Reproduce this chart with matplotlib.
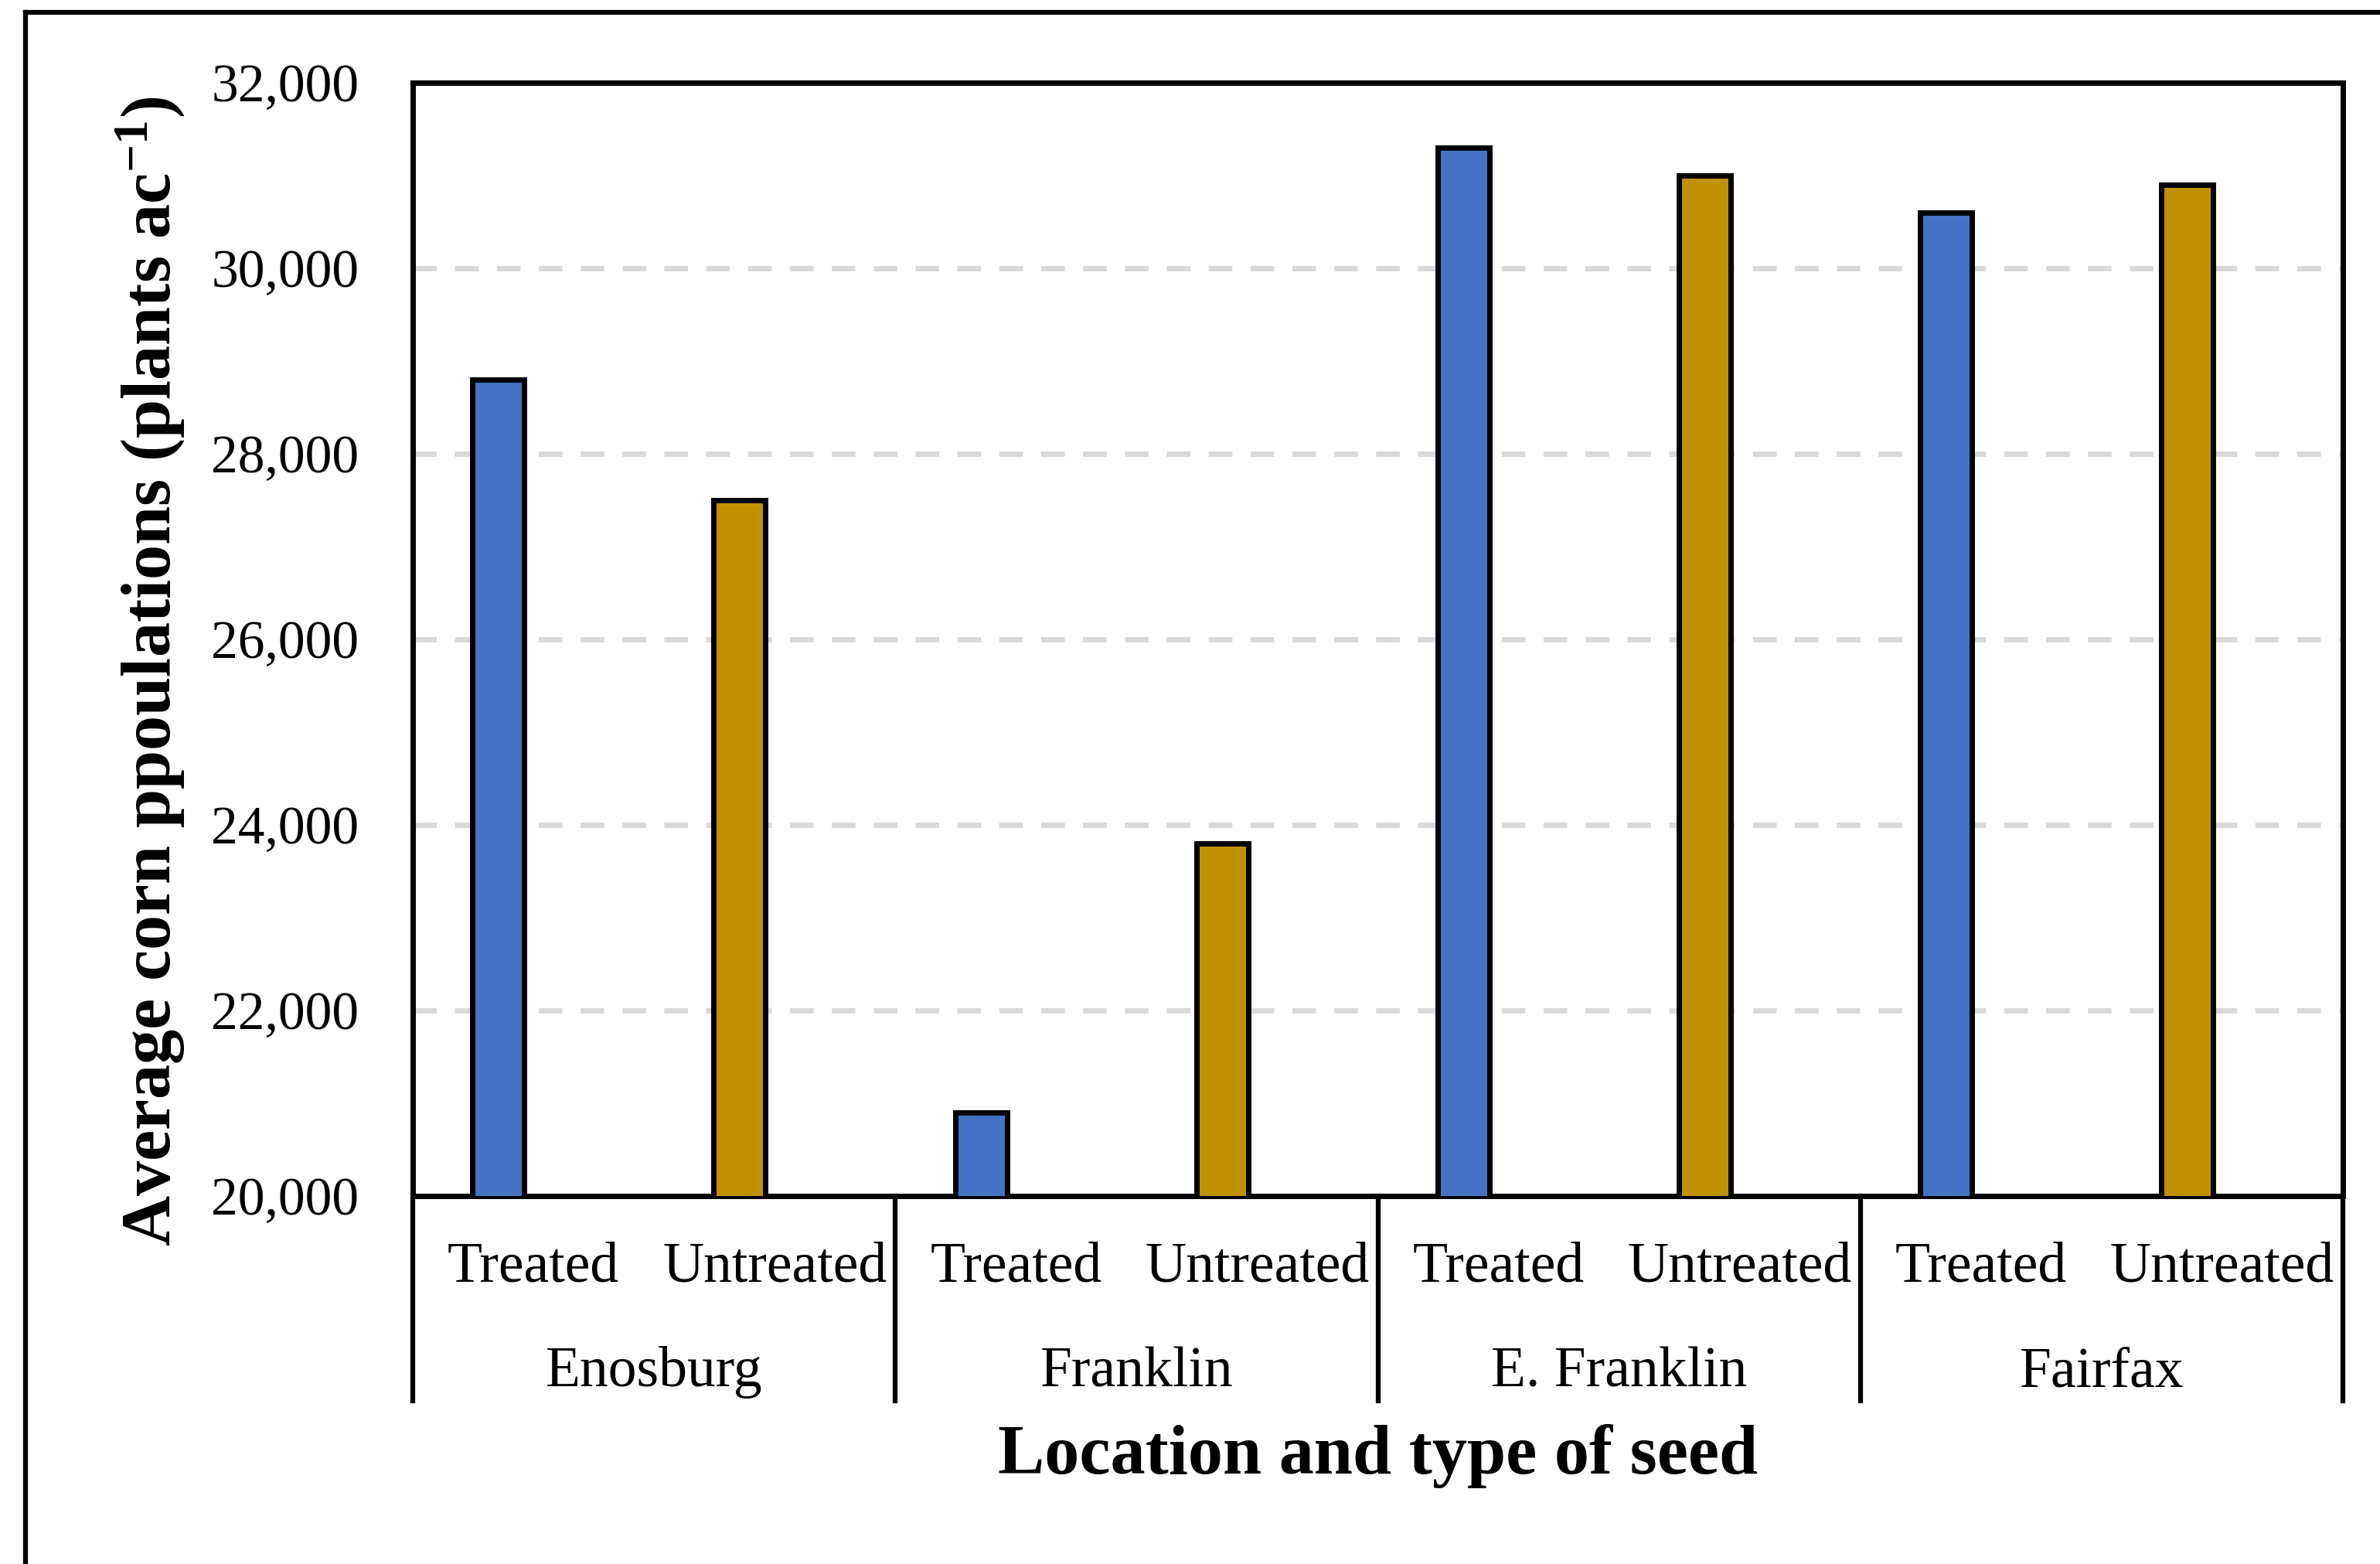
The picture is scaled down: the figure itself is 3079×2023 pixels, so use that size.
import matplotlib
matplotlib.use("Agg")
import matplotlib.pyplot as plt
from matplotlib.lines import Line2D
from matplotlib.ticker import FuncFormatter
import matplotlib.transforms as mtransforms

# data
locations = ["Enosburg", "Franklin", "E. Franklin", "Fairfax"]
seed_types = ["Treated", "Untreated"]
treated = [28800, 20900, 31300, 30600]
untreated = [27500, 23800, 31000, 30900]
y_ticks = [20000, 22000, 24000, 26000, 28000, 30000, 32000]

plt.rcParams['font.family'] = ['Liberation Serif', 'DejaVu Serif']
plt.rcParams['mathtext.fontset'] = 'custom'
plt.rcParams['mathtext.rm'] = 'Liberation Serif'
plt.rcParams['mathtext.bf'] = 'Liberation Serif:bold'
plt.rcParams['mathtext.default'] = 'bf'

W, H = 3079, 2023
fig = plt.figure(figsize=(W / 100, H / 100), dpi=100)

# axes box in pixels: left 534, right 3031, top 107, bottom 1547
ax_l, ax_r, ax_t, ax_b = 534, 3031, 107, 1547
ax = fig.add_axes([ax_l / W, 1 - ax_b / H, (ax_r - ax_l) / W, (ax_b - ax_t) / H])

blue = "#4472C4"
gold = "#BF9000"
bar_w = 0.215
offset = 0.355

# one slot per (location, seed type); Treated first then Untreated
for i, loc in enumerate(locations):
    ax.bar(2 * i + offset, treated[i], width=bar_w, color=blue,
           edgecolor="black", linewidth=5, zorder=3)
    ax.bar(2 * i + 1 + offset, untreated[i], width=bar_w, color=gold,
           edgecolor="black", linewidth=5, zorder=3)

ax.set_xlim(0, 2 * len(locations))
ax.set_ylim(y_ticks[0], y_ticks[-1])
ax.set_yticks(y_ticks)
ax.yaxis.set_major_formatter(FuncFormatter(lambda v, p: f"{int(v):,}"))
ax.tick_params(axis="y", length=0, pad=50, labelsize=50)
ax.set_xticks([])

ax.yaxis.grid(True, color="#D9D9D9", linewidth=5, linestyle=(0, (4.4, 3.4)))
ax.set_axisbelow(True)
for s in ax.spines.values():
    s.set_linewidth(5)
    s.set_color("black")

# category labels below the axis
trans = mtransforms.blended_transform_factory(ax.transData, ax.transAxes)
h_px = ax_b - ax_t
y_cat = -(1657 - ax_b) / h_px
y_grp = -(1793 - ax_b) / h_px
y_sep = -(1812 - ax_b) / h_px
for i, loc in enumerate(locations):
    for j, st in enumerate(seed_types):
        ax.text(2 * i + j + 0.5, y_cat, st, transform=trans, ha="center",
                va="baseline", fontsize=53)
    ax.text(2 * i + 1, y_grp, loc, transform=trans, ha="center",
            va="baseline", fontsize=53)
for k in range(len(locations) + 1):
    ax.add_line(Line2D([2 * k, 2 * k], [0, y_sep], transform=trans,
                       color="black", linewidth=4.5, clip_on=False))

fig.text((ax_l + ax_r) / 2 / W, 1 - 1906 / H, "Location and type of seed",
         ha="center", va="baseline", fontsize=65, fontweight="bold")
fig.text(242 / W, 1 - 868 / H, r"Average corn ppoulations (plants ac$^{-1}$)",
         rotation=90, ha="right", va="center", fontsize=65, fontweight="bold")

# outer frame (only left and top edges are visible in the reference)
fx, fy = 33 / W, 1 - 16 / H
fig.add_artist(Line2D([fx, fx], [0, fy], color="black", linewidth=4.5,
                      transform=fig.transFigure))
fig.add_artist(Line2D([fx, 1], [fy, fy], color="black", linewidth=4.5,
                      transform=fig.transFigure))

fig.savefig("out.png", dpi=100)
